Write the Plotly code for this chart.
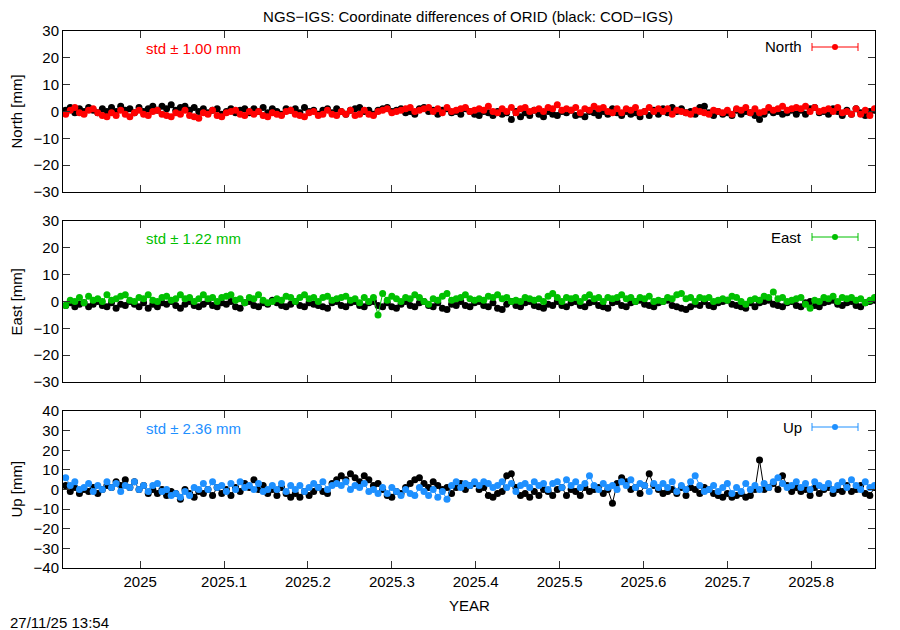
import pandas as pd
import plotly.graph_objects as go
from plotly.subplots import make_subplots

# dias (passo de 2 dias) entre 2024-11-29 e 2025-11-16
datas = pd.date_range("2024-11-29", periods=177, freq="2D")
anos = [d.year + (d.dayofyear - 0.5) / (366 if d.is_leap_year else 365) for d in datas]

# North [mm]
north_cod = [0.5, 1.5, -0.5, 1, 0, 1.5, 0.5, -0.5, 1, 0,
             1.5, 0, 2, 0.5, 1, -0.5, 1.5, 0, 1, 2,
             0.5, 2, 1, 2.5, 0.5, 1.5, 2, 0.5, 1.5, 0,
             1, -0.5, 0.5, 1, -1, 0, 1, -0.5, 0.5, 1,
             -0.5, 1, 0, 1.5, -0.5, 1, 0, -1, 1, 0.5,
             1, -0.5, 1.5, 0, 0.5, -1, 0.5, 1, -0.5, 1,
             0, -1, 0.5, 1, 1.5, 0, 0.5, -1, 0.5, 1,
             1.5, 0, 0.5, 1, -0.5, 0, -1, 1, 1.5, 0,
             0.5, -1, 0.5, 1, -0.5, 0, -1, 1, 0, -1,
             -1.5, 0, -0.5, -1.5, 0, -1, -0.5, -3, 0, -2,
             -0.5, -1.5, 0.5, -1, -2, 0, -1, -1.5, 0, -0.5,
             0.5, -1.5, -1, -2, 0, -0.5, -1.5, 0, -1, 1,
             -0.5, -1.5, 0, -1, -0.5, -2, 0, -1.5, 0.5, -1,
             1, -0.5, 1.5, 0, 1, -0.5, 0, -1, 1.5, 2,
             -0.5, -1.5, 0, -1, -0.5, -1.5, 0.5, -1, 0, -0.5,
             -1.5, -3, -1, 0.5, -0.5, 0, -1, -0.5, 0.5, -1,
             0.5, -1, 1, 1.5, -0.5, 0, -1, 1, 0, -1.5,
             0.5, -1, 1, -0.5, -1.5, 0, 0.5]
north_ngs = [-1, 0.5, 1.5, -0.5, -1, 0.5, 1, -0.5, -1.5, -2,
             -0.5, -1.5, 0.5, -1, -2, -0.5, 0.5, -1, -1.5, 0,
             0.5, -1, -1.5, -2, -0.5, -1, 0.5, -1.5, -2, -2.5,
             -0.5, -1, 0.5, -1.5, -2, -0.5, 0, 0.5, -1, -1.5,
             0, -1, 0, -1.5, -2, -0.5, -1, -1.5, 0, 0.5,
             -1, -1.5, -2, -0.5, 0, -1.5, -1, 0.5, -1, -1.5,
             0, -1, 0.5, -1.5, -1, 0.5, -1, -1.5, 0, 0.5,
             1, -0.5, 0, 0.5, 1, 1.5, 0, 0.5, 1, 1.5,
             0, 1, -0.5, 1.5, 0, 0.5, 1, 1.5, 0, 0.5,
             1, 0.5, 2, 0, -0.5, 1, 0, 1.5, -0.5, 1,
             1.5, 0, 0.5, 1, 0, 1.5, 1, 2.5, 0.5, 1,
             0.5, 1.5, -0.5, 1, 0.5, 2, 1, 1.5, 0, -0.5,
             1, -0.5, 1, 0.5, 1.5, -0.5, 0, 1.5, 0, 1,
             0, 1, -1, 0.5, 0, -0.5, -1, 0.5, 0, -0.5,
             -1, 0.5, 0, -0.5, 0.5, -1, 1, 0.5, 1.5, -0.5,
             1, -0.5, 0, 1.5, 0.5, 1, 2, 0.5, 1, 1.5,
             1, 2, 0, 1.5, 0, 0.5, 1, 0, 1.5, -0.5,
             0, -1, 1, -1, 0.5, -1.5, 1]

# East [mm]
east_cod = [-1.5, -0.5, -2, -1, -0.5, -2, -1, 0, -1.5, -2,
            -0.5, -2.5, -1, -1.5, 0, -1, -2, -0.5, -2.5, -1,
            -2, -0.5, -1, 0, -1.5, -2.5, -1, 0, -1.5, -2,
            -1, 0, -1.5, -2, -0.5, -1, 0, -2, -2.5, -0.5,
            0, -1.5, -2, -0.5, -1, 0.5, -0.5, -1.5, -2, -1,
            0, -1.5, -2, -0.5, -1, -1.5, -2, -2.5, -0.5, 0,
            -1.5, -2, -0.5, 0, -1.5, -2, -0.5, 0, -1.5, -2,
            -0.5, -2, -2.5, -1, 0, -1.5, -2, -0.5, 0, -1.5,
            -2, -0.5, -2.5, -3, -1, -1.5, 0, -1.5, -2, -0.5,
            0, -1.5, -2, -0.5, -2.5, -3, -1, 0, -1.5, -2,
            -0.5, 0, -1.5, -2, -2.5, -1, -1.5, 0, -1.5, -2,
            -0.5, 0, -1.5, -2, -0.5, 0, -1.5, -2, -2.5, -0.5,
            0, -1.5, -2, -0.5, 0, 0.5, -1, -1.5, -2, -0.5,
            0, 0.5, -1.5, -2, -2.5, -3, -2, -1, -1.5, 0,
            -1.5, -2, -0.5, 0, 0.5, -1, -1.5, -2, -2.5, -0.5,
            -2, -0.5, 0, 0.5, -1, -1.5, -2, -0.5, 0, -1.5,
            -2, -0.5, 0, -1.5, -2, -0.5, 0, 0.5, -1, -1.5,
            -0.5, 0, -1.5, -2, -0.5, 0, 0.5]
east_ngs = [-1.5, 0.5, 0, 1.5, -0.5, 2, 0.5, 1, 0, 2.5,
            0.5, 1, 2, 2.5, 0.5, 0, 1.5, 1, 2.5, 0.5,
            0, 1.5, 2, 0.5, 1, 2.5, 1, 1.5, 0, 1,
            2.5, 1, 1.5, 0, 1.5, 2, 2.5, 0.5, 1, -0.5,
            1.5, 1, 2.5, 0.5, -0.5, 0, 1, 0.5, 2, 1.5,
            0, 1.5, 2.5, 1, 1.5, 0, 1.5, 2, 0.5, 1,
            1.5, 2, 0.5, 1, -0.5, 1.5, 0, 1.5, -5, 3,
            0.5, 2, 1, 0, 1.5, 1, 2.5, 1.5, 0, -1,
            1, 0.5, 2, 3, 0.5, 1, 1.5, 2.5, 1, 0.5,
            1, 0.5, 2, 1.5, 2.5, 1, 1.5, 0, 0.5, 0,
            1.5, 1, 0.5, 1, 0, 2, 3, 1.5, 0, 1.5,
            1, 1.5, 0, 1.5, 2.5, 1, 1.5, 0, 1.5, 1,
            1.5, 2.5, 1, 1.5, 0, 1.5, 1, 2, 0, 0.5,
            0, 1.5, 1, 2.5, 3, 1, 1.5, 0, 1.5, 1,
            1.5, 0, 0.5, 1, 0.5, 2, 1.5, 0, -1, 0.5,
            1, 0.5, 2, 1.5, 3.5, 1, 1.5, 0, 0.5, 1,
            1.5, -1, -2.5, 0.5, 0, 1.5, 1, 2, 0, 1.5,
            1, 1.5, 0.5, 1, -0.5, 0.5, 1.5]

# Up [mm]
up_cod = [2, -1, 1, -2, 0, -1, 1, -2, 0, 2,
          1, 4, 2, 5, 1, 4, 0, 2, -2, 0,
          -2, 0, -3, -1, -2, -5, 0, -2, -4, -1,
          -2, 0, -3, 1, -2, 0, -3, 1, -1, 3,
          1, 5, 0, 2, -2, 0, -3, 1, -2, -4,
          -2, -4, -1, -3, -1, 1, -1, -2, 3, 5,
          7, 5, 8, 6, 4, 7, 5, 2, 3, 0,
          -3, -4, -1, -2, 1, 3, 5, 6, 3, 1,
          4, 2, 0, 1, -2, 1, 3, 0, 2, 3,
          0, 1, -3, -4, -2, -1, 7, 8, 1, -3,
          -2, -4, -1, -3, 0, -1, -3, 0, 1, -3,
          0, -1, -3, 1, -1, 0, 1, -2, 0, -7,
          3, 6, 4, 0, 1, -2, 2, 8, 2, 0,
          -2, -1, 0, -2, 1, -3, 1, 0, -2, 1,
          0, -2, -3, -4, -2, -4, -3, -2, -4, -3,
          0, 15, 0, 1, 3, 0, 7, 2, -1, 1,
          -1, 0, -3, 1, -2, 0, 1, -2, 0, -1,
          2, -1, 0, 2, -2, -3, 1]
up_ngs = [6, 2, 4, 0, 1, 3, -1, 2, 0, 4,
          1, 3, -1, 2, 1, 4, 0, 2, -1, 2,
          3, -1, 0, -3, -2, -4, -1, -3, 1, 0,
          3, 0, 4, 1, 2, -1, 3, 0, 4, 1,
          2, 0, 3, -1, 0, 2, 0, 3, -1, 2,
          0, 2, -1, 1, 3, 1, 4, 0, 2, 3,
          2, 4, 0, 2, 1, 3, -1, 0, -2, 1,
          -2, 1, -1, -3, 0, -2, -3, 1, -1, -3,
          0, -4, -1, -5, 2, 4, 1, 3, 2, 4,
          2, 4, 3, 1, 2, 4, 1, 3, -1, 2,
          3, 1, 4, 2, 3, 0, 3, 4, 1, 5,
          2, 4, 1, 3, 7, 2, 0, 3, 1, 2,
          0, 4, 2, 5, 1, 3, 2, -1, 3, 1,
          3, 1, 4, -1, 2, 0, 4, 7, 2, -1,
          0, 2, -1, 1, 3, -2, 1, -1, 3, 0,
          2, 0, 3, 1, 4, 6, 3, 1, 2, 4,
          1, 3, 0, 4, 2, 1, 3, 0, 2, 4,
          1, 5, 2, 0, 4, 1, 2]

componentes = ['North', 'East', 'Up']
titulos_y = ['North [mm]', 'East [mm]', 'Up [mm]']
std_textos = ['std \u00b1 1.00 mm', 'std \u00b1 1.22 mm', 'std \u00b1 2.36 mm']
cores = ['#ff0000', '#00c000', '#1e90ff']
series_cod = [north_cod, east_cod, up_cod]
series_ngs = [north_ngs, east_ngs, up_ngs]
faixas_y = [[-30, 30], [-30, 30], [-40, 40]]

FONTE = 'Liberation Sans, Arial, sans-serif'
TAM = 15
W, H = 900, 630
OFF = 8  # margem do <body> na pagina
# area de plotagem em px da imagem de referencia
X0, X1 = 63, 875
L = X0 - OFF
R = W - (X1 - OFF)
T = 31 - OFF
B = H - (568 - OFF)
pw, ph = W - L - R, H - T - B

# limites verticais (px) de cada painel
paineis_px = [(31, 192), (221, 382), (411, 568)]


def px_x(px):
    return (px - X0) / pw


def px_y(py):
    return (568 - py) / ph


fig = make_subplots(rows=3, cols=1, shared_xaxes=True)

for i in range(3):
    fig.add_trace(go.Scatter(x=anos, y=series_cod[i], mode='lines+markers',
                             line=dict(color='black', width=1),
                             marker=dict(color='black', size=7),
                             showlegend=False, hoverinfo='skip'), row=i + 1, col=1)
    fig.add_trace(go.Scatter(x=anos, y=series_ngs[i], mode='lines+markers',
                             line=dict(color=cores[i], width=1),
                             marker=dict(color=cores[i], size=7),
                             name=componentes[i], showlegend=False), row=i + 1, col=1)

eixo = dict(showline=True, linecolor='black', linewidth=1, mirror='ticks',
            ticks='inside', ticklen=7, tickcolor='#333', showgrid=False, zeroline=False,
            tickfont=dict(family=FONTE, size=TAM, color='black'))

for i, (top, bot) in enumerate(paineis_px):
    dom = [px_y(bot), px_y(top)]
    fig.update_yaxes(eixo, range=faixas_y[i], dtick=10, domain=dom, row=i + 1, col=1)
    fig.update_xaxes(eixo, range=[2024.908, 2025.876], dtick=0.1, tick0=2025,
                     tickformat='.5~g', showticklabels=(i == 2), row=i + 1, col=1)

fonte_preta = dict(family=FONTE, size=TAM, color='black')
anot = []
shapes = []
for i, (top, bot) in enumerate(paineis_px):
    yc = (top + bot) / 2
    anot.append(dict(text=titulos_y[i], xref='paper', yref='paper', x=px_x(16), y=px_y(yc),
                     xanchor='center', yanchor='middle',
                     textangle=-90, showarrow=False, font=fonte_preta))
    # texto std
    anot.append(dict(text=std_textos[i], xref='paper', yref='paper', x=px_x(144), y=px_y(top + 17),
                     xanchor='left', yanchor='middle', showarrow=False,
                     font=dict(family=FONTE, size=TAM, color=cores[i])))
    # legenda estilo gnuplot
    ly = top + 16
    anot.append(dict(text=componentes[i], xref='paper', yref='paper', x=px_x(804), y=px_y(ly),
                     xanchor='right', yanchor='middle', showarrow=False, font=fonte_preta))
    shapes.append(dict(type='line', xref='paper', yref='paper', x0=px_x(812), x1=px_x(858),
                       y0=px_y(ly), y1=px_y(ly), line=dict(color=cores[i], width=1)))
    for cx in (812, 858):
        shapes.append(dict(type='line', xref='paper', yref='paper', x0=px_x(cx), x1=px_x(cx),
                           y0=px_y(ly - 4), y1=px_y(ly + 4), line=dict(color=cores[i], width=1)))
    shapes.append(dict(type='circle', xref='paper', yref='paper', x0=px_x(832), x1=px_x(838),
                       y0=px_y(ly + 3), y1=px_y(ly - 3), fillcolor=cores[i], line=dict(width=0)))

anot.append(dict(text='YEAR', xref='paper', yref='paper', x=px_x(469), y=px_y(605),
                 xanchor='center', yanchor='middle', showarrow=False, font=fonte_preta))
anot.append(dict(text='27/11/25 13:54', xref='paper', yref='paper', x=px_x(8), y=px_y(622),
                 xanchor='left', yanchor='middle', showarrow=False, font=fonte_preta))

fig.update_layout(
    width=W, height=H,
    margin=dict(l=L, r=R, t=T, b=B),
    paper_bgcolor='white', plot_bgcolor='white',
    # o titulo fica o mais alto possivel sem ser cortado
    title=dict(text='NGS\u2212IGS: Coordinate differences of ORID (black: COD\u2212IGS)',
               x=px_x(468), xref='paper', xanchor='center', y=1 - 9 / H, yanchor='middle',
               font=fonte_preta),
    annotations=anot, shapes=shapes,
    showlegend=False,
)

fig.write_html("out.html")
